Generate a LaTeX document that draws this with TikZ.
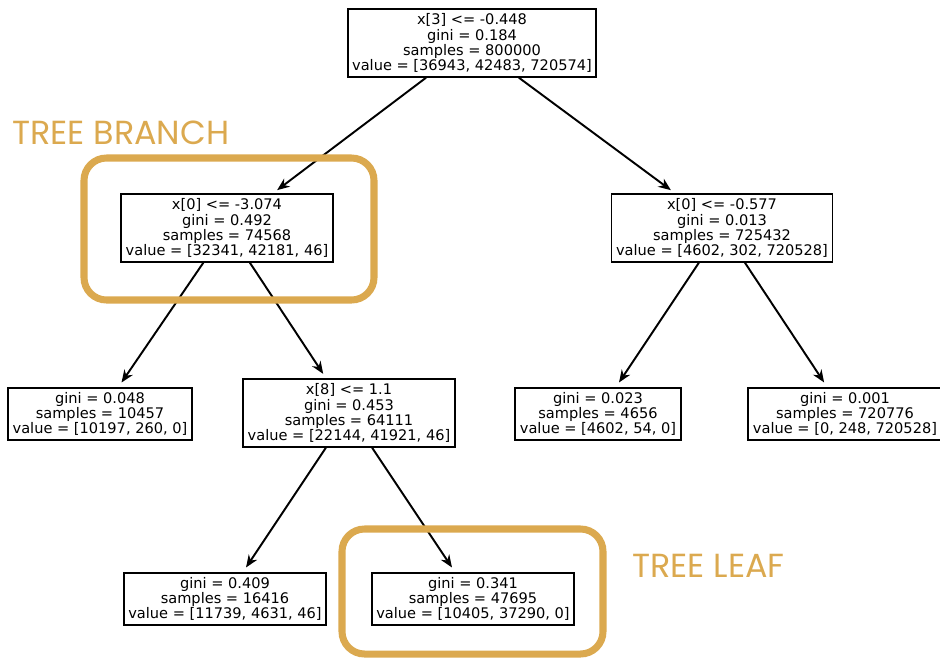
\documentclass[tikz,border=0pt]{standalone}
\usepackage{fontspec}
\setmainfont{DejaVu Sans}
\newfontfamily\labelfont{Poppins}
\usetikzlibrary{arrows.meta}
\definecolor{treegold}{HTML}{DBA94F}

\begin{document}
\begin{tikzpicture}[x=0.02cm, y=-0.02cm, every node/.style={font=\fontsize{8.3}{8.6}\selectfont, align=center}, >={Stealth[length=2.5mm, width=2mm]}]
\useasboundingbox (0,0) rectangle (940,657);
\node[draw, line width=1.1pt, inner sep=2.6pt] (root) at (472,43) {x[3] <= -0.448\\gini = 0.184\\samples = 800000\\value = [36943, 42483, 720574]};
\node[draw, line width=1.1pt, inner sep=2.6pt] (n1) at (227,228) {x[0] <= -3.074\\gini = 0.492\\samples = 74568\\value = [32341, 42181, 46]};
\node[draw, line width=1.1pt, inner sep=2.6pt] (n2) at (722,228) {x[0] <= -0.577\\gini = 0.013\\samples = 725432\\value = [4602, 302, 720528]};
\node[draw, line width=1.1pt, inner sep=2.6pt] (l1) at (100,414) {gini = 0.048\\samples = 10457\\value = [10197, 260, 0]};
\node[draw, line width=1.1pt, inner sep=2.6pt] (n3) at (349,413) {x[8] <= 1.1\\gini = 0.453\\samples = 64111\\value = [22144, 41921, 46]};
\node[draw, line width=1.1pt, inner sep=2.6pt] (l2) at (598,414) {gini = 0.023\\samples = 4656\\value = [4602, 54, 0]};
\node[draw, line width=1.1pt, inner sep=2.6pt] (l3) at (845,414) {gini = 0.001\\samples = 720776\\value = [0, 248, 720528]};
\node[draw, line width=1.1pt, inner sep=2.6pt] (l4) at (225,599) {gini = 0.409\\samples = 16416\\value = [11739, 4631, 46]};
\node[draw, line width=1.1pt, inner sep=2.6pt] (l5) at (473,599) {gini = 0.341\\samples = 47695\\value = [10405, 37290, 0]};

\draw[->, line width=1.1pt, shorten >=3pt] (root) -- (n1);
\draw[->, line width=1.1pt, shorten >=3pt] (root) -- (n2);
\draw[->, line width=1.1pt, shorten >=3pt] (n1) -- (l1);
\draw[->, line width=1.1pt, shorten >=3pt] (n1) -- (n3);
\draw[->, line width=1.1pt, shorten >=3pt] (n2) -- (l2);
\draw[->, line width=1.1pt, shorten >=3pt] (n2) -- (l3);
\draw[->, line width=1.1pt, shorten >=3pt] (n3) -- (l4);
\draw[->, line width=1.1pt, shorten >=3pt] (n3) -- (l5);

\draw[treegold, line width=4pt, rounded corners=0.45cm] (84,158) rectangle (374,300);
\draw[treegold, line width=4pt, rounded corners=0.45cm] (342,529) rectangle (603,654);
\node[text=treegold, font=\labelfont\fontsize{19}{22}\selectfont, anchor=west] (branchlabel) at (6,133) {TREE BRANCH};
\node[text=treegold, font=\labelfont\fontsize{19}{22}\selectfont, anchor=west] (leaflabel) at (626,566) {TREE LEAF};
\end{tikzpicture}
\end{document}
